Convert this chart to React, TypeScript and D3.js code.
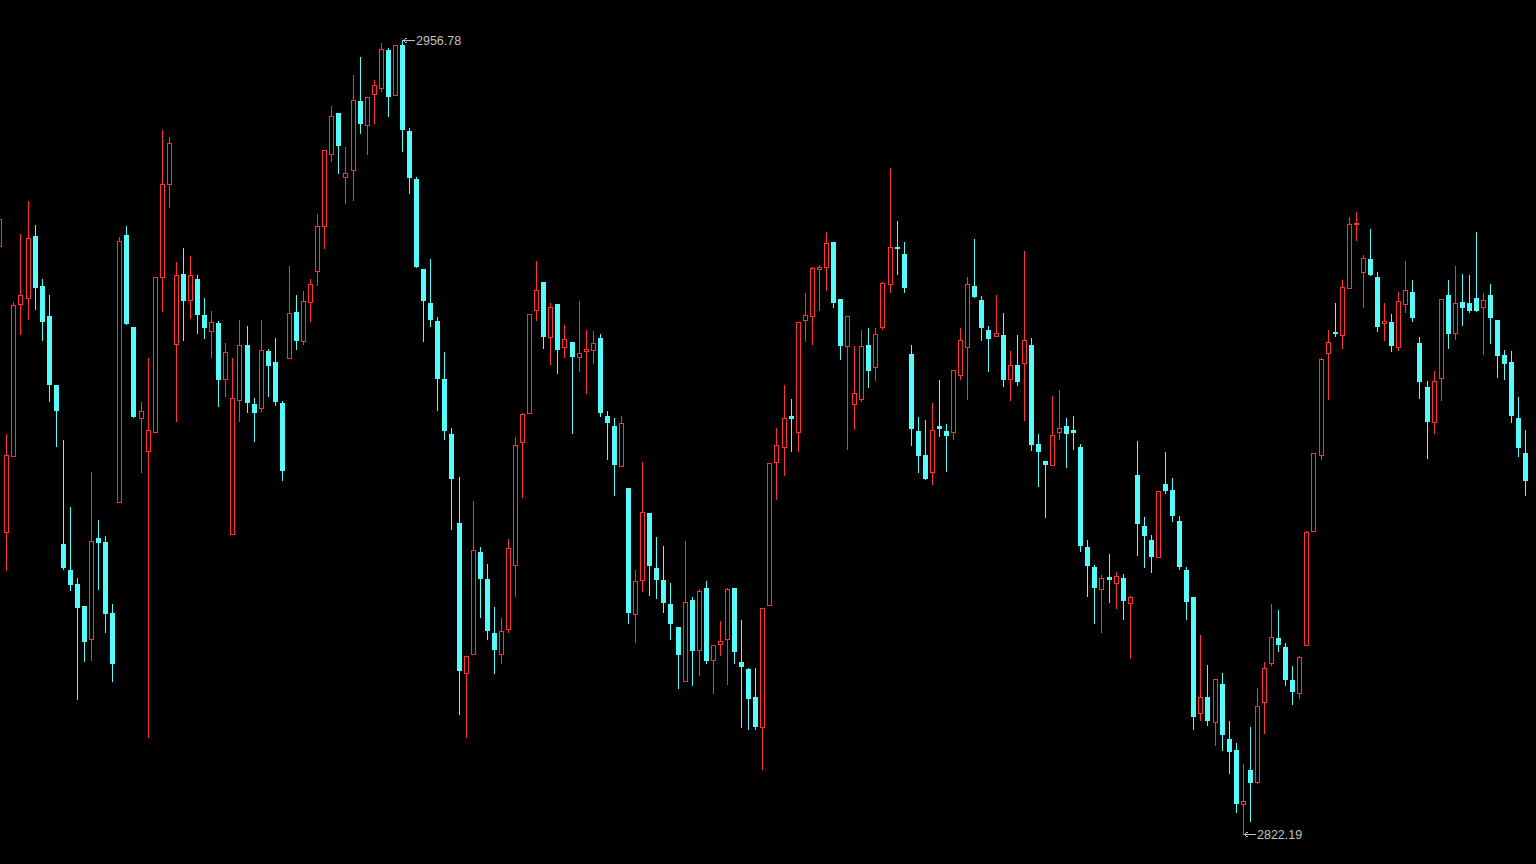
import React from "react";
import * as d3 from "d3";

const opens = [
  2921.9, 2873.4, 2886.3, 2912.0, 2913.1, 2923.6, 2915.1, 2910.0, 2898.3, 2871.4,
  2867.0, 2864.6, 2860.9, 2855.3, 2872.4, 2871.7, 2859.7, 2878.5, 2923.8, 2908.2,
  2892.8, 2887.1, 2890.4, 2916.7, 2932.3, 2905.3, 2917.2, 2912.8, 2916.3, 2910.2,
  2907.4, 2908.9, 2899.3, 2873.0, 2895.7, 2905.1, 2895.1, 2894.5, 2904.1, 2902.2,
  2895.3, 2902.9, 2910.7, 2905.7, 2912.4, 2917.6, 2925.2, 2937.4, 2944.4, 2933.6,
  2934.8, 2946.5, 2942.4, 2947.6, 2948.7, 2955.1, 2947.4, 2955.9, 2941.4, 2933.3,
  2918.0, 2912.2, 2909.2, 2899.4, 2890.0, 2874.9, 2849.6, 2852.7, 2870.0, 2865.4,
  2856.3, 2852.8, 2856.9, 2867.9, 2888.6, 2893.5, 2911.0, 2915.8, 2906.4, 2912.1,
  2904.7, 2905.6, 2903.0, 2904.1, 2904.2, 2906.3, 2893.1, 2891.4, 2884.6, 2880.9,
  2859.6, 2865.2, 2876.6, 2867.3, 2865.3, 2861.2, 2857.3, 2848.1, 2861.9, 2853.4,
  2863.9, 2851.7, 2854.4, 2855.2, 2863.9, 2851.4, 2850.2, 2845.5, 2840.3, 2861.1,
  2885.2, 2887.8, 2893.1, 2890.4, 2909.4, 2910.0, 2918.0, 2918.4, 2922.6, 2912.9,
  2905.0, 2895.1, 2896.0, 2905.1, 2901.3, 2908.1, 2915.4, 2921.7, 2920.5, 2903.6,
  2890.5, 2886.5, 2883.5, 2891.4, 2890.5, 2890.3, 2900.1, 2904.7, 2915.1, 2912.7,
  2907.6, 2906.7, 2906.8, 2899.3, 2901.7, 2902.0, 2905.1, 2888.3, 2885.4, 2884.8,
  2890.3, 2891.4, 2890.7, 2887.8, 2870.9, 2867.5, 2863.8, 2865.8, 2864.8, 2865.6,
  2861.3, 2883.1, 2874.4, 2872.1, 2869.1, 2881.6, 2880.5, 2875.3, 2867.0, 2862.4,
  2842.7, 2845.5, 2841.3, 2847.7, 2838.3, 2836.5, 2827.3, 2833.1, 2831.1, 2844.6,
  2851.3, 2855.5, 2853.9, 2848.3, 2846.2, 2854.2, 2873.6, 2886.5, 2903.8, 2907.3,
  2906.8, 2914.8, 2925.6, 2917.4, 2919.7, 2916.6, 2908.9, 2909.0, 2904.8, 2912.1,
  2914.1, 2905.4, 2898.0, 2892.0, 2899.5, 2913.6, 2907.1, 2912.4, 2912.2, 2913.1,
  2911.5, 2913.6, 2909.3, 2903.4, 2902.2, 2892.7, 2886.8,
];

const highs = [
  2932.7, 2890.0, 2912.4, 2923.9, 2929.5, 2925.4, 2916.3, 2913.6, 2898.3, 2889.0,
  2877.6, 2865.6, 2860.9, 2883.6, 2875.5, 2872.7, 2861.2, 2923.4, 2925.2, 2908.2,
  2895.4, 2902.9, 2916.6, 2941.5, 2940.4, 2919.2, 2921.5, 2920.2, 2916.9, 2913.1,
  2910.8, 2909.2, 2905.4, 2902.9, 2909.3, 2908.3, 2896.1, 2909.3, 2904.4, 2906.3,
  2895.6, 2918.5, 2913.6, 2914.3, 2916.3, 2927.3, 2938.1, 2945.6, 2944.4, 2938.7,
  2950.9, 2953.9, 2947.1, 2950.0, 2956.3, 2955.5, 2956.0, 2956.78, 2941.9, 2933.6,
  2918.0, 2919.7, 2909.8, 2903.9, 2891.0, 2882.8, 2852.4, 2878.7, 2870.9, 2868.0,
  2860.7, 2858.8, 2872.3, 2889.5, 2893.6, 2910.3, 2919.3, 2915.8, 2912.2, 2912.1,
  2908.5, 2905.6, 2912.6, 2907.6, 2907.5, 2907.0, 2893.9, 2892.7, 2893.1, 2880.9,
  2867.0, 2885.3, 2876.6, 2872.5, 2871.0, 2864.8, 2857.4, 2871.9, 2862.4, 2863.7,
  2865.1, 2854.2, 2858.3, 2863.9, 2863.9, 2858.5, 2850.3, 2850.4, 2860.5, 2885.1,
  2891.0, 2898.3, 2896.0, 2909.0, 2913.9, 2918.4, 2918.7, 2924.3, 2922.6, 2912.9,
  2910.0, 2904.9, 2907.6, 2908.0, 2908.0, 2915.8, 2935.1, 2926.1, 2922.5, 2905.1,
  2892.9, 2892.4, 2895.3, 2899.2, 2891.7, 2900.8, 2908.0, 2916.6, 2923.1, 2913.4,
  2908.3, 2913.6, 2910.5, 2904.1, 2906.8, 2921.0, 2906.3, 2890.0, 2885.4, 2896.5,
  2897.5, 2892.7, 2893.1, 2888.4, 2872.1, 2867.8, 2866.1, 2869.7, 2866.6, 2866.3,
  2862.6, 2888.8, 2876.0, 2872.9, 2880.4, 2887.0, 2882.6, 2876.1, 2867.5, 2862.4,
  2856.0, 2850.9, 2848.5, 2849.5, 2841.4, 2837.7, 2834.1, 2840.4, 2847.0, 2851.4,
  2861.2, 2860.2, 2854.6, 2850.7, 2852.4, 2873.5, 2886.8, 2902.9, 2907.6, 2912.2,
  2916.1, 2926.8, 2927.6, 2920.3, 2924.8, 2917.5, 2912.2, 2910.4, 2914.1, 2919.3,
  2916.1, 2906.5, 2899.0, 2900.7, 2912.9, 2916.1, 2918.5, 2917.1, 2917.0, 2924.3,
  2913.9, 2915.4, 2909.3, 2904.3, 2904.1, 2896.3, 2890.7,
];

const lows = [
  2920.9, 2866.9, 2886.3, 2907.0, 2909.5, 2911.2, 2905.9, 2895.6, 2888.0, 2867.2,
  2863.6, 2845.2, 2851.6, 2851.8, 2863.8, 2856.5, 2848.2, 2878.5, 2908.7, 2892.9,
  2883.6, 2838.6, 2890.4, 2910.8, 2928.4, 2892.3, 2906.0, 2909.6, 2907.2, 2906.3,
  2903.1, 2894.7, 2896.5, 2873.0, 2892.3, 2893.7, 2888.9, 2894.0, 2896.5, 2895.0,
  2882.3, 2902.9, 2904.5, 2905.3, 2909.1, 2915.3, 2921.6, 2936.2, 2934.3, 2929.2,
  2929.6, 2941.1, 2937.5, 2942.8, 2948.2, 2943.9, 2947.4, 2937.9, 2930.8, 2918.3,
  2905.8, 2908.3, 2894.1, 2889.1, 2873.9, 2842.6, 2838.7, 2852.7, 2859.0, 2855.3,
  2849.6, 2851.3, 2856.4, 2862.6, 2879.4, 2893.5, 2909.4, 2904.6, 2901.9, 2900.4,
  2903.1, 2890.2, 2900.7, 2896.9, 2902.1, 2893.1, 2885.7, 2879.7, 2884.6, 2858.0,
  2854.8, 2863.5, 2862.8, 2862.3, 2859.9, 2855.2, 2847.0, 2848.1, 2847.5, 2849.2,
  2851.2, 2846.2, 2852.5, 2847.7, 2851.3, 2840.4, 2840.0, 2840.1, 2833.2, 2861.1,
  2879.0, 2883.1, 2887.2, 2887.2, 2905.7, 2905.3, 2911.1, 2914.5, 2911.6, 2902.7,
  2887.4, 2890.8, 2895.6, 2898.0, 2899.1, 2907.8, 2914.0, 2917.2, 2914.0, 2888.2,
  2883.5, 2882.4, 2881.6, 2889.7, 2883.8, 2889.1, 2899.4, 2896.0, 2913.3, 2906.0,
  2900.7, 2906.7, 2898.2, 2895.7, 2898.4, 2892.4, 2887.3, 2881.2, 2876.0, 2884.8,
  2889.2, 2884.5, 2887.5, 2870.2, 2862.6, 2858.0, 2856.4, 2861.6, 2860.5, 2858.7,
  2852.1, 2869.6, 2867.5, 2866.6, 2869.1, 2880.1, 2875.2, 2867.2, 2858.7, 2840.1,
  2841.6, 2840.7, 2837.4, 2836.5, 2832.5, 2826.0, 2822.19, 2824.5, 2830.8, 2839.4,
  2850.9, 2853.3, 2847.5, 2844.3, 2845.3, 2854.2, 2873.6, 2885.8, 2896.0, 2906.6,
  2904.6, 2914.8, 2922.9, 2911.5, 2917.0, 2907.5, 2906.0, 2904.1, 2904.3, 2910.7,
  2909.1, 2896.2, 2886.0, 2890.2, 2895.7, 2904.6, 2906.2, 2908.5, 2910.7, 2910.9,
  2903.5, 2905.5, 2899.7, 2899.4, 2892.1, 2886.3, 2879.7,
];

const closes = [
  2926.4, 2886.4, 2911.8, 2913.6, 2923.3, 2914.7, 2909.0, 2898.3, 2893.9, 2867.3,
  2864.5, 2860.5, 2854.8, 2871.9, 2871.5, 2859.6, 2851.1, 2922.7, 2908.7, 2892.9,
  2893.9, 2890.7, 2916.6, 2932.3, 2939.3, 2916.9, 2912.5, 2916.9, 2910.2, 2908.0,
  2909.0, 2899.2, 2903.9, 2896.1, 2905.1, 2895.2, 2893.5, 2904.2, 2901.6, 2895.5,
  2883.8, 2910.6, 2905.7, 2912.6, 2915.4, 2925.3, 2938.1, 2943.9, 2938.9, 2934.2,
  2946.6, 2942.6, 2947.1, 2949.1, 2955.3, 2947.2, 2955.9, 2941.6, 2933.4, 2918.3,
  2912.6, 2909.4, 2899.4, 2890.6, 2882.4, 2849.8, 2852.4, 2870.3, 2865.4, 2856.7,
  2853.4, 2856.6, 2870.7, 2888.1, 2893.4, 2910.3, 2914.4, 2906.5, 2911.5, 2904.3,
  2906.1, 2903.0, 2903.7, 2904.4, 2905.4, 2893.5, 2891.8, 2884.7, 2891.8, 2859.7,
  2865.1, 2876.8, 2867.7, 2865.3, 2861.3, 2857.9, 2852.6, 2861.5, 2853.3, 2863.4,
  2851.6, 2854.2, 2854.9, 2863.7, 2853.1, 2850.6, 2845.2, 2840.4, 2860.5, 2885.1,
  2888.2, 2892.7, 2892.6, 2909.0, 2910.1, 2918.1, 2918.4, 2922.3, 2912.3, 2905.0,
  2910.0, 2896.9, 2904.9, 2900.7, 2906.9, 2915.6, 2921.7, 2921.3, 2914.8, 2890.8,
  2886.3, 2882.4, 2890.7, 2890.8, 2889.6, 2900.8, 2905.9, 2915.4, 2913.3, 2907.9,
  2906.2, 2907.1, 2899.1, 2901.7, 2898.9, 2906.0, 2888.2, 2886.9, 2884.7, 2889.8,
  2891.0, 2890.1, 2890.2, 2871.1, 2867.7, 2864.0, 2865.7, 2865.2, 2865.9, 2861.8,
  2862.4, 2874.7, 2872.8, 2869.2, 2880.3, 2880.4, 2876.2, 2867.5, 2861.6, 2842.1,
  2845.4, 2841.4, 2848.5, 2839.1, 2836.2, 2827.4, 2827.8, 2830.9, 2843.9, 2850.3,
  2855.6, 2854.2, 2848.3, 2846.3, 2852.2, 2873.4, 2886.8, 2902.7, 2905.6, 2907.0,
  2914.9, 2925.6, 2925.8, 2919.8, 2917.0, 2908.2, 2909.1, 2904.9, 2912.5, 2914.4,
  2909.6, 2898.9, 2892.1, 2899.0, 2912.9, 2907.0, 2912.3, 2911.4, 2910.9, 2910.9,
  2912.8, 2909.7, 2903.3, 2901.9, 2893.0, 2887.7, 2882.1,
];

const WIDTH = 1536;
const HEIGHT = 864;
const UP_COLOR = "#ff3232";
const DOWN_COLOR = "#54fcfc";
const LABEL_COLOR = "#c0c0c0";

export default function App() {
  const idx = d3.range(opens.length);
  const x = d3
    .scaleBand<number>()
    .domain(idx)
    .range([-3.23, 1527.9])
    .paddingInner(0.3);
  const y = d3.scaleLinear().domain([2822.19, 2956.78]).range([834.3, 40]);

  const cxOf = (i: number) => Math.round(x(i)! + x.step() / 2 - 0.15 * x.step() * 0) + 0.5;
  const center = (i: number) => Math.round(x(i)! + x.bandwidth() / 2) + 0.5;

  const maxI = d3.maxIndex(highs);
  const minI = d3.minIndex(lows);
  const maxV = highs[maxI];
  const minV = lows[minI];

  const candles = idx.map((i) => {
    const o = opens[i], c = closes[i], h = highs[i], l = lows[i];
    const cx = center(i);
    const yH = Math.round(y(h));
    const yL = Math.round(y(l));
    const yT = Math.round(y(Math.max(o, c)));
    const yB = Math.round(y(Math.min(o, c)));
    const up = c >= o;
    if (up) {
      const hgt = Math.max(yB - yT, 0);
      return (
        <g key={i}>
          {yT > yH && <line x1={cx} x2={cx} y1={yH} y2={yT} stroke={UP_COLOR} />}
          {yL > yB && <line x1={cx} x2={cx} y1={yB + 1} y2={yL + 1} stroke={UP_COLOR} />}
          {hgt > 0 ? (
            <rect x={cx - 2} y={yT + 0.5} width={4} height={hgt} fill="#000" stroke={UP_COLOR} />
          ) : (
            <line x1={cx - 2.5} x2={cx + 2.5} y1={yT + 0.5} y2={yT + 0.5} stroke={UP_COLOR} />
          )}
        </g>
      );
    }
    return (
      <g key={i}>
        <line x1={cx} x2={cx} y1={yH} y2={yL + 1} stroke={DOWN_COLOR} />
        <rect x={cx - 2.5} y={yT} width={5} height={Math.max(yB - yT, 1)} fill={DOWN_COLOR} />
      </g>
    );
  });

  const label = (i: number, v: number) => {
    const cx = center(i);
    const yy = Math.round(y(v)) + 0.5;
    return (
      <g>
        <line x1={cx + 1} x2={cx + 12} y1={yy} y2={yy} stroke={LABEL_COLOR} />
        <path d={`M${cx + 4},${yy - 2.5}L${cx + 1},${yy}L${cx + 4},${yy + 2.5}`} fill="none" stroke={LABEL_COLOR} />
        <text
          x={cx + 13.5}
          y={yy}
          dominantBaseline="central"
          fill={LABEL_COLOR}
          fontFamily="'Liberation Sans', Arial, sans-serif"
          fontSize={12.5}
          shapeRendering="auto"
        >
          {v.toFixed(2)}
        </text>
      </g>
    );
  };

  return (
    <svg
      width={WIDTH}
      height={HEIGHT}
      style={{ position: "fixed", left: 0, top: 0, background: "#000", display: "block" }}
      shapeRendering="crispEdges"
    >
      <rect x={0} y={0} width={WIDTH} height={HEIGHT} fill="#000" />
      {candles}
      {label(maxI, maxV)}
      {label(minI, minV)}
    </svg>
  );
}
